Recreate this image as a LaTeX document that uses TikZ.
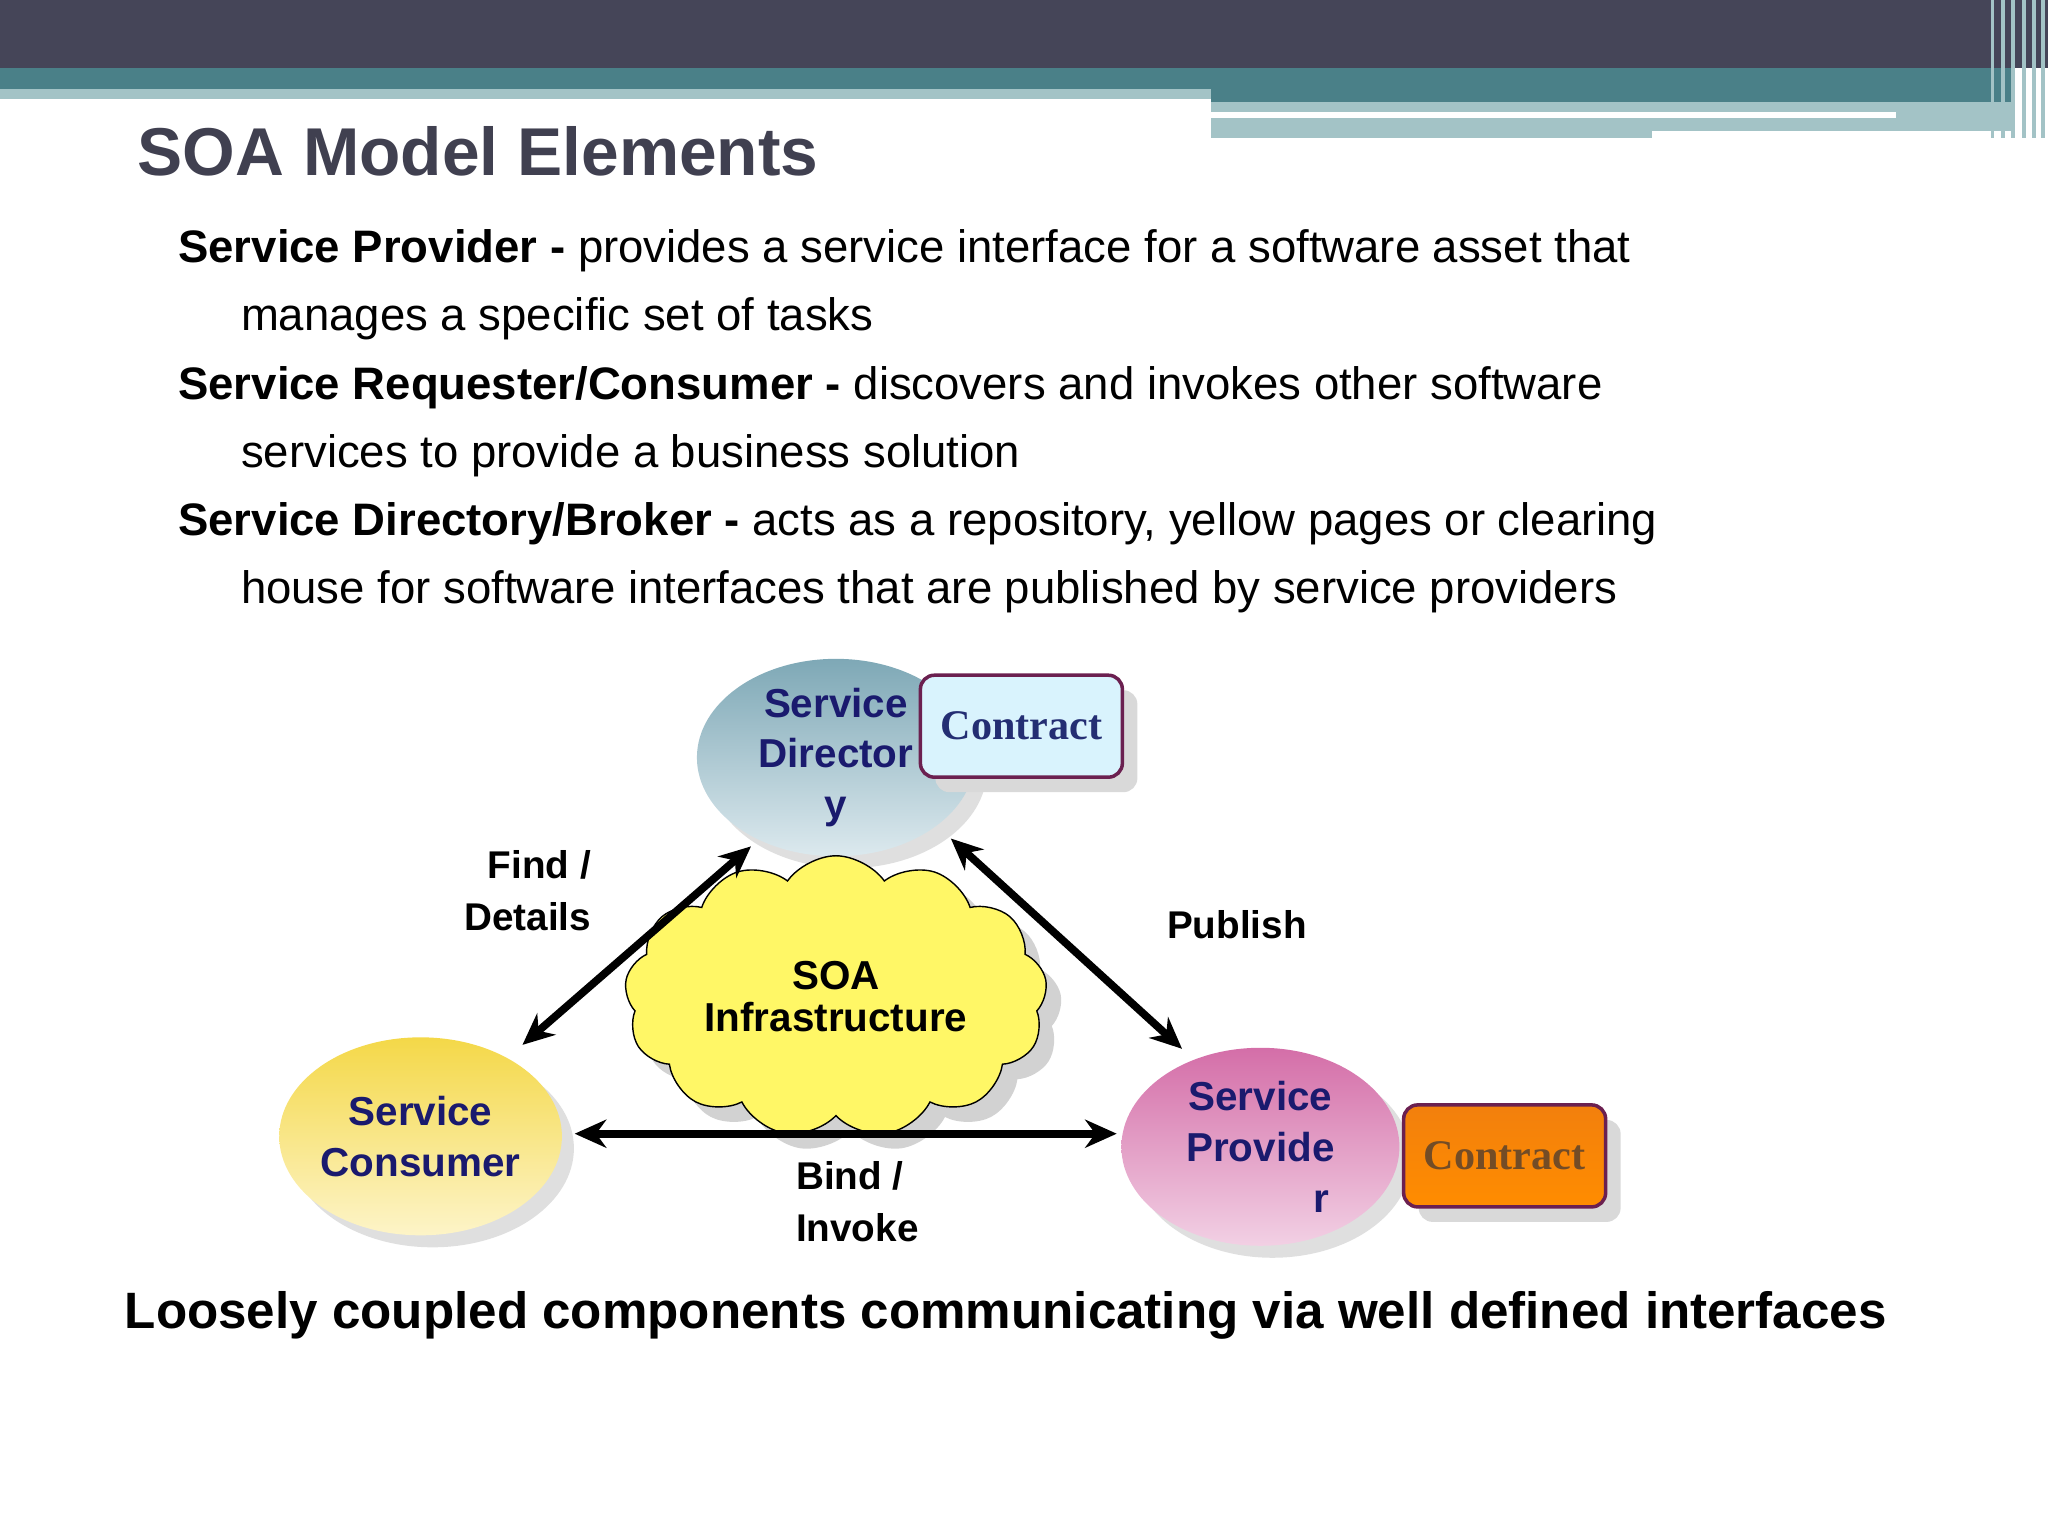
\documentclass[tikz,border=0pt]{standalone}
\usepackage{fontspec}
\setmainfont{Liberation Sans}
\newfontfamily\serifx{Liberation Serif}
\usetikzlibrary{shapes.symbols,shapes.geometric,shadows,arrows.meta}
\definecolor{band}{HTML}{454558}
\definecolor{teal}{HTML}{4A8088}
\definecolor{lteal}{HTML}{A3C3C6}
\definecolor{navy}{HTML}{1A1A6E}
\definecolor{ttl}{HTML}{404050}
\definecolor{plum}{HTML}{6B2050}
\definecolor{dirL}{HTML}{7EA8B6}
\definecolor{dirR}{HTML}{DCE9EE}
\definecolor{conL}{HTML}{F4D848}
\definecolor{conR}{HTML}{FDF4C8}
\definecolor{prvL}{HTML}{D46EA8}
\definecolor{prvR}{HTML}{F2D0E4}
\begin{document}
\begin{tikzpicture}[x=0.013061cm,y=-0.013061cm,
  body/.style={anchor=west,inner sep=0pt,font=\fontsize{12.95}{14}\selectfont},
  ell/.style={ellipse,inner sep=0pt,minimum width=2.78cm,minimum height=1.98cm,align=center,font=\bfseries\fontsize{11.5}{14.5}\selectfont,text=navy,drop shadow={shadow xshift=1.2mm,shadow yshift=-1.2mm,fill=gray!50}},
  con/.style={draw=plum,line width=1pt,rounded corners=4pt,minimum width=2.02cm,minimum height=1.02cm,font=\serifx\bfseries\fontsize{12}{14}\selectfont,drop shadow={shadow xshift=1.5mm,shadow yshift=-1.5mm,fill=gray!30,opacity=1}},
  arr/.style={{Stealth[length=9pt,width=8pt]}-{Stealth[length=9pt,width=8pt]},line width=2.2pt},
  lbl/.style={font=\bfseries\fontsize{11}{15}\selectfont,align=left}]
\useasboundingbox (0,0) rectangle (1568,1176);
% header bands
\fill[band] (0,0) rectangle (1568,52);
\fill[teal] (0,52) rectangle (1540,68);
\fill[lteal] (0,68) rectangle (927,76);
\fill[teal] (927,68) rectangle (1540,78);
\fill[lteal] (927,78) rectangle (1540,106);
\fill[white] (927,86) rectangle (1452,90);
\fill[white] (1265,100) rectangle (1540,106);
\foreach \x in {1524,1532,1540,1548,1556,1563}{\fill[lteal] (\x,0) rectangle (\x+3,106);}
\node[anchor=west,inner sep=0pt,text=ttl,font=\bfseries\fontsize{19.25}{22}\selectfont] (title) at (105,116) {SOA Model Elements};
\node[body] (l1) at (136,192) {\textbf{Service Provider -} provides a service interface for a software asset that};
\node[body] (l2) at (184,244) {manages a specific set of tasks};
\node[body] (l3) at (136,297) {\textbf{Service Requester/Consumer -} discovers and invokes other software};
\node[body] (l4) at (184,349) {services to provide a business solution};
\node[body] (l5) at (136,401) {\textbf{Service Directory/Broker -} acts as a repository, yellow pages or clearing};
\node[body] (l6) at (184,453) {house for software interfaces that are published by service providers};
% diagram
\node[ell,minimum height=1.85cm,left color=dirL,right color=dirR,shading angle=0] (dir) at (640,580) {Service\\Director\\y};
\node[con,fill=cyan!15] (c1) at (782,556) {\textcolor{navy!80!teal}{Contract}};
\node[cloud,cloud puffs=13,cloud puff arc=110,aspect=1.7,draw=black,fill=yellow!60!white,minimum width=4.1cm,minimum height=2.25cm,align=center,font=\bfseries\fontsize{11.5}{12}\selectfont,drop shadow={shadow xshift=1.5mm,shadow yshift=-1.5mm,fill=gray!70}] (cloud) at (640,763) {SOA\\Infrastructure};
\node[ell,left color=conL,right color=conR,shading angle=0] (cons) at (322,870) {Service\\Consumer};
\node[ell,left color=prvL,right color=prvR,shading angle=0] (prov) at (965,878) {Service\\Provide\\\hspace*{3em}r};
\node[con,left color=orange!80!brown,right color=orange!90!yellow,shading angle=0] (c2) at (1152,885) {\textcolor{brown!60!black}{Contract}};
\coordinate (a1) at (575,648); \coordinate (a2) at (400,800);
\coordinate (b1) at (728,642); \coordinate (b2) at (905,803);
\coordinate (d1) at (440,868); \coordinate (d2) at (855,868);
\draw[arr] (a1) -- (a2);
\draw[arr] (b1) -- (b2);
\draw[arr] (d1) -- (d2);
\node[lbl,align=right,anchor=east] (find) at (462,682) {Find /\\Details};
\node[lbl,anchor=west] (pub) at (884,708) {Publish};
\node[lbl,anchor=west] (bind) at (600,920) {Bind /\\Invoke};
\node[anchor=center,font=\bfseries\fontsize{14.55}{16}\selectfont] (foot) at (770,1007) {Loosely coupled components communicating via well defined interfaces};
\end{tikzpicture}
\end{document}
